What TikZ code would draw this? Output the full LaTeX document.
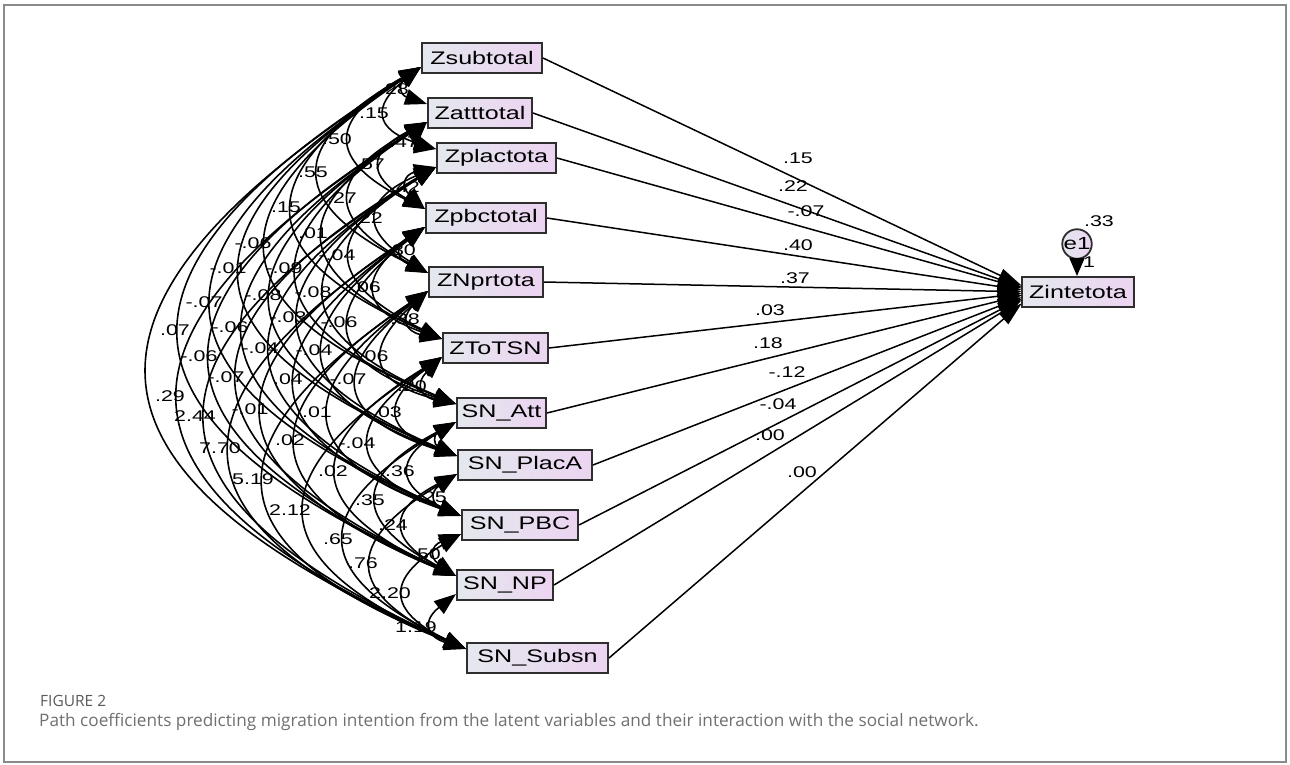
\documentclass[tikz,border=0pt]{standalone}
\usepackage{fontspec}
\setmainfont{Liberation Sans}
\newfontfamily\amosfont[FakeStretch=1.38]{Liberation Sans}
\newfontfamily\capfont{Open Sans}
\usetikzlibrary{arrows.meta}
\definecolor{boxL}{HTML}{E4E8EE}
\definecolor{boxR}{HTML}{ECD4F1}
\definecolor{boxline}{HTML}{2E2E2E}
\definecolor{framegray}{HTML}{8A8A8A}
\definecolor{capgray}{HTML}{707070}
\definecolor{figgray}{HTML}{5A5A5A}
\begin{document}
\begin{tikzpicture}[x=1pt,y=1pt,
  var/.style={draw=boxline,line width=2pt,left color=boxL,right color=boxR,minimum height=30pt,inner sep=0pt,font=\amosfont\fontsize{18.2}{20}\selectfont},
  cov/.style={font=\amosfont\fontsize{15.5}{17}\selectfont,inner sep=0pt},
  covarrow/.style={line width=1.6pt,{Triangle[length=22pt,width=16pt]}-{Triangle[length=22pt,width=16pt]}},
  patharrow/.style={line width=1.5pt,-{Triangle[length=24pt,width=14pt]}}]
\fill[white] (0,0) rectangle (1290,-764);
\useasboundingbox (0,0) rectangle (1290,-764);
\draw[framegray,line width=1.5pt] (4,-5) rectangle (1286,-762);

% covariance labels (drawn first, arcs cross them)
\foreach \t/\x/\y [count=\k] in {
 .28/394/89, .15/374/113, .50/337/139, .47/404/142, .55/313/172, .57/370/164,
 .42/405/187, .15/286/207, .27/342/198, .22/368/218, -.06/253/243, .01/313/233,
 .30/401/250, -.04/337/255, -.01/228/268, -.09/284/268, -.07/204/302, -.08/263/295,
 -.08/313/292, .06/366/287, .07/175/330, -.06/230/327, -.03/288/317, -.06/339/322,
 .38/405/319, -.06/199/356, -.04/260/348, -.04/314/350, -.06/370/356, -.07/226/377,
 .04/288/379, -.07/348/379, .20/412/386, .29/170/396, 2.44/195/416, -.01/250/409,
 .01/317/412, .03/387/412, 7.70/220/448, .02/290/440, -.04/357/443, 5.19/253/479,
 .02/333/471, .36/400/471, .25/432/497, 2.12/290/510, .35/370/500, .24/393/525,
 .65/338/539, .50/426/554, .76/363/563, 2.20/390/593, 1.19/416/627}
 \node[cov] (c\k) at (\x,-\y) {\t};

% observed variables
\node[var,minimum width=120pt] (b1) at (482,-58) {Zsubtotal};
\node[var,minimum width=104pt] (b2) at (480,-113) {Zatttotal};
\node[var,minimum width=119pt] (b3) at (496.5,-158) {Zplactota};
\node[var,minimum width=120pt] (b4) at (486,-218) {Zpbctotal};
\node[var,minimum width=114pt] (b5) at (486,-282) {ZNprtota};
\node[var,minimum width=105pt] (b6) at (495.5,-348) {ZToTSN};
\node[var,minimum width=89pt] (b7) at (501.5,-413) {SN\_Att};
\node[var,minimum width=134pt] (b8) at (525,-465) {SN\_PlacA};
\node[var,minimum width=116pt] (b9) at (520,-525) {SN\_PBC};
\node[var,minimum width=96pt] (b10) at (505,-585) {SN\_NP};
\node[var,minimum width=141pt] (b11) at (537.5,-658) {SN\_Subsn};
\node[var,minimum width=112pt] (zi) at (1078,-292) {Zintetota};
\node[inner sep=0pt,minimum width=26pt,minimum height=30pt] (zport) at (1035,-292) {};

% covariances
\foreach \i in {1,...,10}{
  \pgfmathtruncatemacro\s{\i+1}
  \foreach \j in {\s,...,11}{
    \draw[covarrow] ([yshift=7pt]b\i.south west) to[bend right=62,looseness=1.95] ([yshift=-7pt]b\j.north west);
  }
}

% paths
\foreach \i in {1,...,11}{ \draw[patharrow] (b\i.east) -- (zport); }
\foreach \t/\x/\y [count=\k] in {.15/798/158, .22/793/186, -.07/806/211, .40/798/245, .37/795/278,
  .03/770/310, .18/768/343, -.12/787/372, -.04/778/404, .00/770/435, .00/802/472}
  \node[cov] (p\k) at (\x,-\y) {\t};

% error term
\node[circle,draw=boxline,line width=1.8pt,left color=boxL,right color=boxR,minimum size=29pt,inner sep=0pt,font=\amosfont\fontsize{17.5}{18}\selectfont] (e1) at (1077,-244) {e1};
\draw[line width=1.5pt,-{Triangle[length=18pt,width=15pt]}] (e1) -- (e1 |- zi.north);
\node[cov] (r2) at (1099,-221) {.33};
\node[cov] (one) at (1089,-262) {1};

% caption
\node[anchor=west,inner sep=0pt,font=\capfont\fontsize{15.5}{17}\selectfont,text=figgray] (fig) at (40,-701) {FIGURE 2};
\node[anchor=west,inner sep=0pt,font=\capfont\fontsize{17.2}{19}\selectfont,text=capgray] (cap) at (39,-722) {Path coefficients predicting migration intention from the latent variables and their interaction with the social network.};
\end{tikzpicture}
\end{document}
